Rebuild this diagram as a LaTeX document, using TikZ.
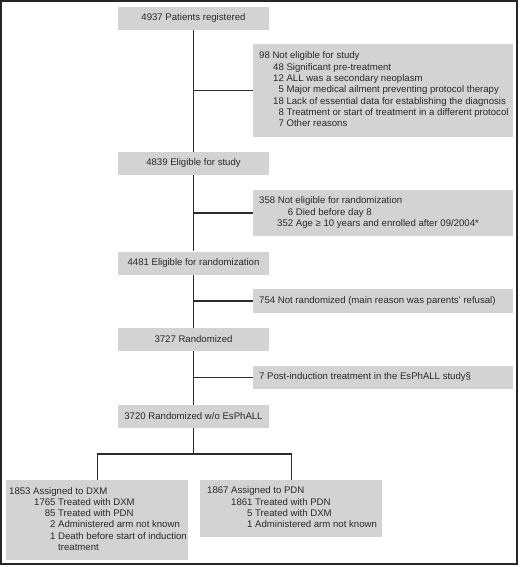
\documentclass[tikz,border=0pt]{standalone}
\usepackage{fontspec}
\setmainfont{Liberation Sans}
\definecolor{boxfill}{RGB}{211,211,211}
\definecolor{txt}{RGB}{40,40,40}
\definecolor{ln}{RGB}{45,45,45}
\begin{document}
\begin{tikzpicture}[x=1pt,y=-1pt,
  every node/.style={font=\fontsize{9.6}{11.3}\selectfont, text=txt},
  mainbox/.style={fill=boxfill, minimum width=151pt, minimum height=23pt, inner sep=0pt, align=center},
  sidebox/.style={fill=boxfill, minimum width=260pt, inner sep=0pt, anchor=west},
  armbox/.style={fill=boxfill, minimum width=182pt, inner sep=0pt, anchor=north west},
  conn/.style={draw=ln, line width=1.3pt}]
\useasboundingbox (0,0) rectangle (520,567);
\draw[line width=1.2pt, draw=black!85] (1,1) rectangle (517,564);

\node[mainbox] (b1) at (193.5,18.5) {4937 Patients registered};
\node[mainbox] (b2) at (193.5,163.5) {4839 Eligible for study};
\node[mainbox] (b3) at (193.5,263) {4481 Eligible for randomization};
\node[mainbox] (b4) at (193.5,339.5) {3727 Randomized};
\node[mainbox] (b5) at (193.5,416.5) {3720 Randomized w/o EsPhALL};

\node[sidebox, minimum height=93pt] (s1) at (253,90.5) {};
\node[anchor=west, inner sep=0pt] at (259,90.5) {\begin{tabular}{@{\hspace{14pt}}r@{\ }l@{}}
\multicolumn{2}{@{}l@{}}{98 Not eligible for study}\\
48 & Significant pre-treatment\\
12 & ALL was a secondary neoplasm\\
5 & Major medical ailment preventing protocol therapy\\
18 & Lack of essential data for establishing the diagnosis\\
8 & Treatment or start of treatment in a different protocol\\
7 & Other reasons
\end{tabular}};

\node[sidebox, minimum height=46pt] (s2) at (253,213) {};
\node[anchor=west, inner sep=0pt] at (259,213) {\begin{tabular}{@{\hspace{18pt}}r@{\ }l@{}}
\multicolumn{2}{@{}l@{}}{358 Not eligible for randomization}\\
6 & Died before day 8\\
352 & Age ≥ 10 years and enrolled after 09/2004*
\end{tabular}};

\node[sidebox, minimum height=24pt] (s3) at (253,301) {};
\node[anchor=west, inner sep=0pt] at (259,301) {754 Not randomized (main reason was parents’ refusal)};

\node[sidebox, minimum height=23pt] (s4) at (253,377.5) {};
\node[anchor=west, inner sep=0pt] at (259,377.5) {7 Post-induction treatment in the EsPhALL study§};

\node[armbox, minimum height=80pt] (a1) at (6,480) {};
\node[anchor=west, inner sep=0pt] at (9,520) {\begin{tabular}{@{\hspace{25pt}}r@{\ }l@{}}
\multicolumn{2}{@{}l@{}}{1853 Assigned to DXM}\\
1765 & Treated with DXM\\
85 & Treated with PDN\\
2 & Administered arm not known\\
1 & Death before start of induction\\
 & treatment
\end{tabular}};

\node[armbox, minimum height=57pt] (a2) at (200,480) {};
\node[anchor=west, inner sep=0pt] at (207,508.5) {\begin{tabular}{@{\hspace{24pt}}r@{\ }l@{}}
\multicolumn{2}{@{}l@{}}{1867 Assigned to PDN}\\
1861 & Treated with PDN\\
5 & Treated with DXM\\
1 & Administered arm not known
\end{tabular}};

\draw[conn] (b1.south) -- (b2.north);
\draw[conn] (b2.south) -- (b3.north);
\draw[conn] (b3.south) -- (b4.north);
\draw[conn] (b4.south) -- (b5.north);
\draw[conn] (b1.south |- s1.west) -- (s1.west);
\draw[conn] (b2.south |- s2.west) -- (s2.west);
\draw[conn] (b3.south |- s3.west) -- (s3.west);
\draw[conn] (b4.south |- s4.west) -- (s4.west);
\coordinate (split) at (193.5,454);
\draw[conn] (b5.south) -- (split);
\draw[conn] (split) -| (a1.north);
\draw[conn] (split) -| (a2.north);
\end{tikzpicture}
\end{document}
